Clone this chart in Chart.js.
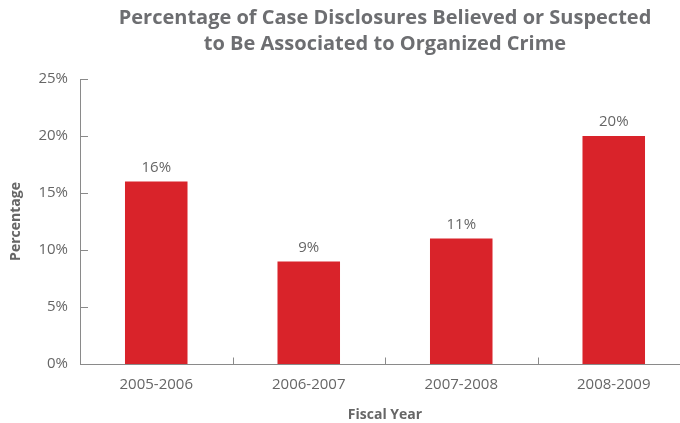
<!DOCTYPE html>
<html>
<head>
<meta charset="utf-8">
<script src="https://cdn.jsdelivr.net/npm/chart.js@4"></script>
<style>
  html, body { margin: 0; padding: 0; background: #fff; overflow: hidden; }
  #wrap { width: 690px; height: 423px; position: relative; }
</style>
</head>
<body>
<div id="wrap"><canvas id="c"></canvas></div>
<script>
const categories = ['2005-2006', '2006-2007', '2007-2008', '2008-2009'];
const percentages = [16, 9, 11, 20];
const yTicks = [0, 5, 10, 15, 20, 25];
const titleLines = ['Percentage of Case Disclosures Believed or Suspected', 'to Be Associated to Organized Crime'];

const textGray = '#666666';
const axisGray = '#8a8a8a';
const fontFamily = '"Open Sans", "Noto Sans", sans-serif';

const innerTicks = {
  id: 'innerTicks',
  afterDraw(chart) {
    const ctx = chart.ctx;
    const x = chart.scales.x, y = chart.scales.y;
    const area = chart.chartArea;
    ctx.save();
    ctx.strokeStyle = axisGray;
    ctx.lineWidth = 1;
    ctx.beginPath();
    ctx.moveTo(area.left + 0.5, y.getPixelForValue(25));
    ctx.lineTo(area.left + 0.5, y.getPixelForValue(0));
    yTicks.forEach(v => {
      const py = Math.round(y.getPixelForValue(v)) + 0.5;
      ctx.moveTo(area.left, py);
      ctx.lineTo(area.left + 8, py);
    });
    const by = Math.round(y.getPixelForValue(0)) + 0.5;
    ctx.moveTo(area.left, by);
    ctx.lineTo(area.right, by);
    for (let i = 1; i < categories.length; i++) {
      const px = Math.round((x.getPixelForValue(i - 1) + x.getPixelForValue(i)) / 2) + 0.5;
      ctx.moveTo(px, by);
      ctx.lineTo(px, by - 7);
    }
    ctx.stroke();
    ctx.restore();
  }
};

const valueLabels = {
  id: 'valueLabels',
  afterDatasetsDraw(chart) {
    const ctx = chart.ctx;
    const meta = chart.getDatasetMeta(0);
    ctx.save();
    ctx.fillStyle = textGray;
    ctx.font = '15px ' + fontFamily;
    ctx.textAlign = 'center';
    ctx.textBaseline = 'middle';
    meta.data.forEach((bar, i) => {
      ctx.fillText(percentages[i] + '%', bar.x, bar.y - 14);
    });
    ctx.restore();
  }
};

new Chart(document.getElementById('c'), {
  type: 'bar',
  data: {
    labels: categories,
    datasets: [{
      data: percentages,
      backgroundColor: '#d9232a',
      borderWidth: 0,
      categoryPercentage: 1.0,
      barPercentage: 0.41
    }]
  },
  options: {
    responsive: true,
    maintainAspectRatio: false,
    animation: false,
    layout: { padding: { left: 8, right: 0, top: 0, bottom: 0 } },
    plugins: {
      legend: { display: false },
      tooltip: { enabled: false },
      title: {
        display: true,
        text: titleLines,
        fullSize: false,
        color: '#6d6e71',
        font: { family: fontFamily, size: 20, weight: 'bold', lineHeight: 1.3 },
        padding: { top: 5, bottom: 22 }
      }
    },
    scales: {
      x: {
        grid: { display: false, drawTicks: false },
        border: { display: false },
        ticks: { color: textGray, font: { family: fontFamily, size: 15 }, padding: 12 },
        title: {
          display: true, text: 'Fiscal Year', color: textGray,
          font: { family: fontFamily, size: 14, weight: 'bold' },
          padding: { top: 8, bottom: 0 }
        },
        afterFit(scale) { scale.height = 59; }
      },
      y: {
        min: 0, max: 25,
        afterBuildTicks(scale) { scale.ticks = yTicks.map(v => ({ value: v })); },
        grid: { display: false, drawTicks: false },
        border: { display: false },
        ticks: {
          color: textGray, font: { family: fontFamily, size: 15 }, padding: 12,
          callback: v => v + '%'
        },
        title: {
          display: true, text: 'Percentage', color: textGray,
          font: { family: fontFamily, size: 14, weight: 'bold' },
          padding: { top: 0, bottom: 0 }
        },
        afterFit(scale) { scale.width = 72; }
      }
    }
  },
  plugins: [innerTicks, valueLabels]
});
</script>
</body>
</html>
